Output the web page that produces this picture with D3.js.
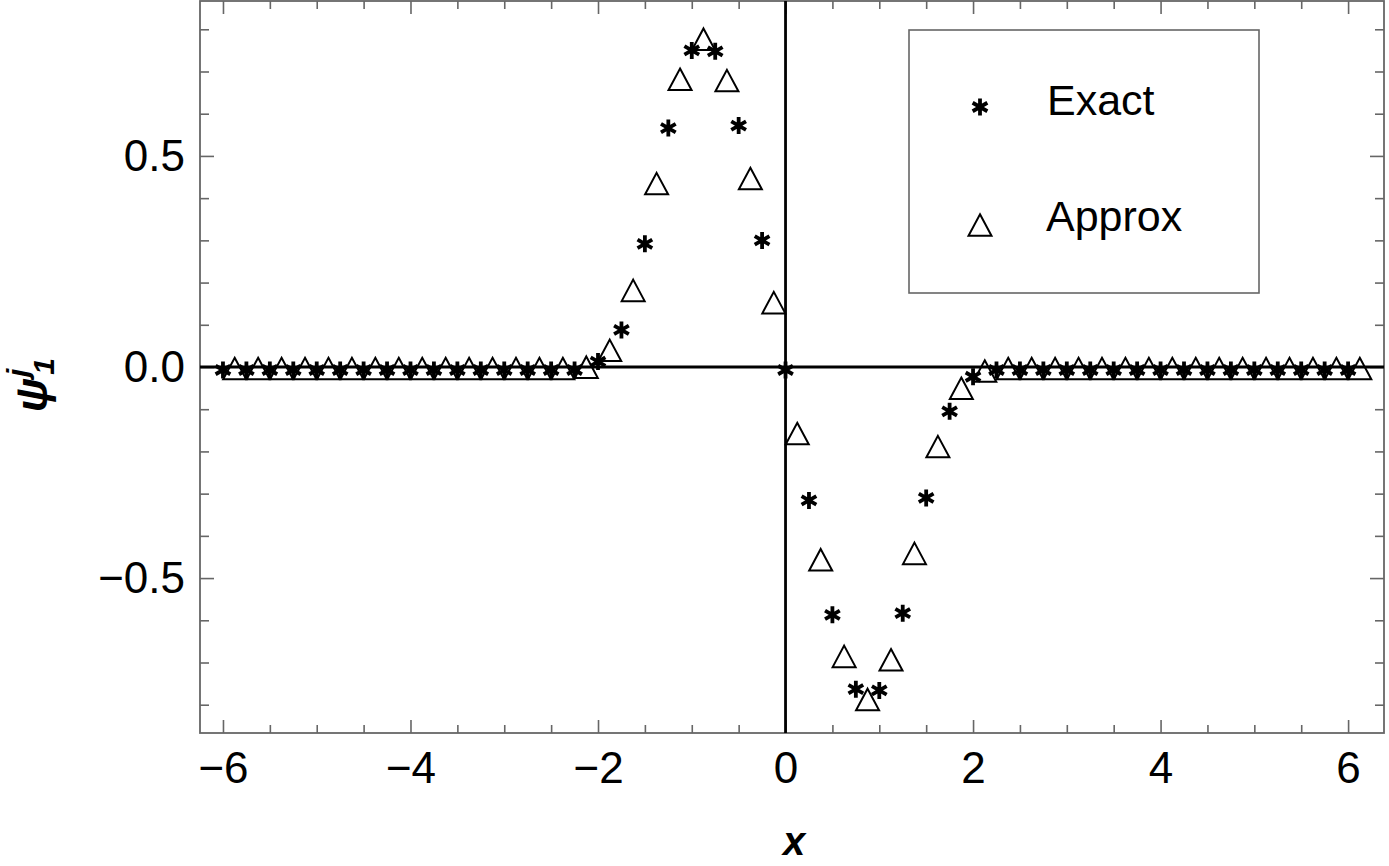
<!DOCTYPE html>
<html>
<head>
<meta charset="utf-8">
<script src="https://cdn.jsdelivr.net/npm/d3@7"></script>
<style>
  html, body { margin: 0; padding: 0; background: #fff; }
  svg { display: block; }
  text { font-family: "Liberation Sans", Arial, sans-serif; fill: #000; }
</style>
</head>
<body>
<svg id="chart" width="1389" height="866"></svg>
<script>
// ---- data ----
const exactX = [-6,-5.75,-5.5,-5.25,-5,-4.75,-4.5,-4.25,-4,-3.75,-3.5,-3.25,-3,-2.75,-2.5,-2.25,
  -2,-1.75,-1.5,-1.25,-1,-0.75,-0.5,-0.25,0,0.25,0.5,0.75,1,1.25,1.5,1.75,2,
  2.25,2.5,2.75,3,3.25,3.5,3.75,4,4.25,4.5,4.75,5,5.25,5.5,5.75,6];
const exactY = [0,0,0,0,0,0,0,0,0,0,0,0,0,0,0,0,
  0.020,0.095,0.299,0.573,0.757,0.755,0.579,0.307,0,-0.309,-0.580,-0.756,-0.759,-0.576,-0.303,-0.098,-0.016,
  0,0,0,0,0,0,0,0,0,0,0,0,0,0,0,0];
const approxX = [-5.875,-5.625,-5.375,-5.125,-4.875,-4.625,-4.375,-4.125,-3.875,-3.625,-3.375,-3.125,
  -2.875,-2.625,-2.375,-2.125,-1.875,-1.625,-1.375,-1.125,-0.875,-0.625,-0.375,-0.125,
  0.125,0.375,0.625,0.875,1.125,1.375,1.625,1.875,2.125,2.375,2.625,2.875,
  3.125,3.375,3.625,3.875,4.125,4.375,4.625,4.875,5.125,5.375,5.625,5.875,6.125];
const approxY = [0,0,0,0,0,0,0,0,0,0,0,0,
  0,0,0,0.003,0.043,0.185,0.438,0.685,0.780,0.682,0.450,0.156,
  -0.154,-0.453,-0.682,-0.784,-0.690,-0.438,-0.185,-0.047,-0.006,0,0,0,
  0,0,0,0,0,0,0,0,0,0,0,0,0];
const xMajorTicks = [-6,-4,-2,0,2,4,6];
const xMinorTicks = [-5.5,-5,-4.5,-3.5,-3,-2.5,-1.5,-1,-0.5,0.5,1,1.5,2.5,3,3.5,4.5,5,5.5];
const yMajorTicks = [-0.5,0,0.5];
const yMinorTicks = [-0.8,-0.7,-0.6,-0.4,-0.3,-0.2,-0.1,0.1,0.2,0.3,0.4,0.6,0.7,0.8];
const seriesNames = ["Exact","Approx"];
const xLabel = "x";

// ---- layout ----
const L = 200, R = 1384, T = 1, B = 733;
const svg = d3.select("#chart");
const x = d3.scaleLinear().domain([-6.245, 6.383]).range([L, R]);
const y = d3.scaleLinear().domain([-0.867, 0.867]).range([B, T]);

const frameColor = "#666";
const fontSize = 44;

function styleAxis(g) {
  g.select(".domain").remove();
  g.selectAll(".tick line").attr("stroke", frameColor).attr("stroke-width", 1.6);
  g.selectAll(".tick text").attr("font-size", fontSize).attr("font-family", '"Liberation Sans", Arial, sans-serif').attr("fill", "#000");
}

// bottom
svg.append("g").attr("transform", `translate(0,${B})`)
  .call(d3.axisBottom(x).tickValues(xMajorTicks).tickSize(-13).tickPadding(19).tickFormat(d3.format("d")))
  .call(styleAxis);
svg.append("g").attr("transform", `translate(0,${B})`)
  .call(d3.axisBottom(x).tickValues(xMinorTicks).tickSize(-8).tickFormat(""))
  .call(styleAxis);
// top
svg.append("g").attr("transform", `translate(0,${T})`)
  .call(d3.axisTop(x).tickValues(xMajorTicks).tickSize(-13).tickFormat(""))
  .call(styleAxis);
svg.append("g").attr("transform", `translate(0,${T})`)
  .call(d3.axisTop(x).tickValues(xMinorTicks).tickSize(-8).tickFormat(""))
  .call(styleAxis);
// left
svg.append("g").attr("transform", `translate(${L},0)`)
  .call(d3.axisLeft(y).tickValues(yMajorTicks).tickSize(-14).tickPadding(15).tickFormat(d3.format(".1f")))
  .call(styleAxis);
svg.append("g").attr("transform", `translate(${L},0)`)
  .call(d3.axisLeft(y).tickValues(yMinorTicks).tickSize(-9).tickFormat(""))
  .call(styleAxis);
// right
svg.append("g").attr("transform", `translate(${R},0)`)
  .call(d3.axisRight(y).tickValues(yMajorTicks).tickSize(-14).tickFormat(""))
  .call(styleAxis);
svg.append("g").attr("transform", `translate(${R},0)`)
  .call(d3.axisRight(y).tickValues(yMinorTicks).tickSize(-9).tickFormat(""))
  .call(styleAxis);

// frame
svg.append("rect").attr("x", L).attr("y", T).attr("width", R - L).attr("height", B - T)
  .attr("fill", "none").attr("stroke", frameColor).attr("stroke-width", 1.8);

// zero lines
svg.append("line").attr("x1", L).attr("x2", R).attr("y1", y(0)).attr("y2", y(0))
  .attr("stroke", "#000").attr("stroke-width", 2.8);
svg.append("line").attr("x1", x(0)).attr("x2", x(0)).attr("y1", T).attr("y2", B)
  .attr("stroke", "#000").attr("stroke-width", 2.8);

// markers
function asteriskPath(r) {
  const p = d3.path();
  for (let k = 0; k < 3; k++) {
    const a = Math.PI / 2 + k * Math.PI / 3;
    p.moveTo(r * Math.cos(a), -r * Math.sin(a));
    p.lineTo(-r * Math.cos(a), r * Math.sin(a));
  }
  return p.toString();
}
function trianglePath(w, h) {
  return `M0,${-h/2}L${w/2},${h/2}L${-w/2},${h/2}Z`;
}
const astD = asteriskPath(8.5);
const triD = trianglePath(23, 21.5);

const exactData = exactX.map((v, i) => ({x: v, y: exactY[i]}));
const approxData = approxX.map((v, i) => ({x: v, y: approxY[i]}));

svg.append("g").selectAll("path").data(approxData).join("path")
  .attr("d", triD)
  .attr("transform", d => `translate(${x(d.x)},${y(d.y) + 1.5})`)
  .attr("fill", "none").attr("stroke", "#000").attr("stroke-width", 2);

svg.append("g").selectAll("path").data(exactData).join("path")
  .attr("d", astD)
  .attr("transform", d => `translate(${x(d.x)},${y(d.y) + 3})`)
  .attr("fill", "none").attr("stroke", "#000").attr("stroke-width", 3.8).attr("stroke-linecap", "butt");

// legend
const lg = svg.append("g");
lg.append("rect").attr("x", 909).attr("y", 30).attr("width", 350).attr("height", 263)
  .attr("fill", "#fff").attr("stroke", frameColor).attr("stroke-width", 1.6);
lg.append("path").attr("d", astD).attr("transform", "translate(980,107)")
  .attr("fill", "none").attr("stroke", "#000").attr("stroke-width", 3.8);
lg.append("text").attr("x", 1047).attr("y", 115).attr("font-size", 43).text(seriesNames[0]);
lg.append("path").attr("d", triD).attr("transform", "translate(980,225)")
  .attr("fill", "none").attr("stroke", "#000").attr("stroke-width", 2);
lg.append("text").attr("x", 1046).attr("y", 231).attr("font-size", 43).text(seriesNames[1]);

// axis labels
svg.append("text").attr("x", 794).attr("y", 855).attr("text-anchor", "middle")
  .attr("font-size", 40).attr("font-weight", "bold").attr("font-style", "italic").text(xLabel);

const yl = svg.append("text").attr("transform", "translate(47,412) rotate(-90)")
  .attr("font-weight", "bold").attr("font-style", "italic").attr("font-size", 44);
yl.append("tspan").text("ψ");
yl.append("tspan").attr("font-size", 30).attr("dy", -19).attr("dx", 1).text("j");
yl.append("tspan").attr("font-size", 30).attr("dy", 26).attr("dx", -6).text("1");
</script>
</body>
</html>
